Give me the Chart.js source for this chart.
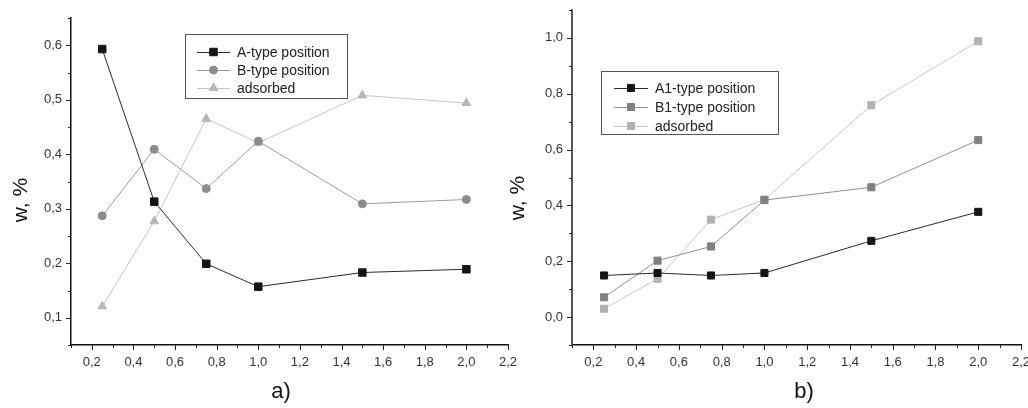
<!DOCTYPE html>
<html>
<head>
<meta charset="utf-8">
<script src="https://cdn.jsdelivr.net/npm/chart.js@4.4.1/dist/chart.umd.min.js"></script>
<style>
  body { margin: 0; background: #fff; width: 1028px; height: 408px; overflow: hidden; position: relative; }
  canvas { position: absolute; top: 0; }
  #chartA { left: 0; }
  #chartB { left: 500px; }
</style>
</head>
<body>
<canvas id="chartA" width="520" height="408"></canvas>
<canvas id="chartB" width="528" height="408"></canvas>
<script>
// values
const xValues = [0.25, 0.5, 0.75, 1.0, 1.5, 2.0];

const aType     = [0.593, 0.313, 0.199, 0.157, 0.183, 0.189];
const bType     = [0.287, 0.409, 0.337, 0.424, 0.309, 0.317];
const adsorbedA = [0.121, 0.277, 0.465, 0.421, 0.508, 0.494];

const a1Type    = [0.149, 0.158, 0.149, 0.158, 0.273, 0.377];
const b1Type    = [0.071, 0.202, 0.253, 0.419, 0.465, 0.634];
const adsorbedB = [0.030, 0.137, 0.349, 0.421, 0.759, 0.988];

const labelsA = ["A-type position", "B-type position", "adsorbed"];
const labelsB = ["A1-type position", "B1-type position", "adsorbed"];

const FONT = "'Liberation Sans', Arial, sans-serif";

function isMajor(v, step) {
  const r = v / step;
  return Math.abs(r - Math.round(r)) < 1e-6;
}
function fmt(v) {
  return v.toFixed(1).replace(".", ",");
}
function pts(ys) {
  return xValues.map((x, i) => ({ x: x, y: ys[i] }));
}

// minor / major tick marks, outward
const tickMarks = {
  id: "tickMarks",
  afterDraw(chart, args, opts) {
    const ctx = chart.ctx;
    const xs = chart.scales.x, ys = chart.scales.y;
    ctx.save();
    ctx.strokeStyle = "#222";
    ctx.lineWidth = 1;
    xs.ticks.forEach(t => {
      const px = Math.round(xs.getPixelForValue(t.value)) + 0.5;
      const len = isMajor(t.value, opts.xMajor) ? 5 : 3;
      ctx.beginPath();
      ctx.moveTo(px, xs.top);
      ctx.lineTo(px, xs.top + len);
      ctx.stroke();
    });
    ys.ticks.forEach(t => {
      const py = Math.round(ys.getPixelForValue(t.value)) + 0.5;
      const len = isMajor(t.value, opts.yMajor) ? 5 : 3;
      ctx.beginPath();
      ctx.moveTo(ys.right, py);
      ctx.lineTo(ys.right - len, py);
      ctx.stroke();
    });
    ctx.restore();
  }
};

// boxed legend + axis titles
const boxLegend = {
  id: "boxLegend",
  afterDraw(chart, args, opts) {
    const ctx = chart.ctx;
    const b = opts.box;
    ctx.save();
    ctx.strokeStyle = "#555";
    ctx.lineWidth = 1;
    ctx.strokeRect(b.x + 0.5, b.y + 0.5, b.w, b.h);
    ctx.font = "14px " + FONT;
    ctx.textBaseline = "middle";
    chart.data.datasets.forEach((ds, i) => {
      const y = b.y + opts.rowStart + i * opts.rowGap;
      ctx.strokeStyle = ds.borderColor;
      ctx.beginPath();
      ctx.moveTo(b.x + opts.lineX0, y + 0.5);
      ctx.lineTo(b.x + opts.lineX1, y + 0.5);
      ctx.stroke();
      ctx.fillStyle = ds.pointBackgroundColor;
      ctx.strokeStyle = ds.pointBackgroundColor;
      Chart.helpers.drawPoint(ctx, {
        pointStyle: ds.pointStyle, radius: ds.pointRadius, rotation: 0, borderWidth: 1
      }, b.x + (opts.lineX0 + opts.lineX1) / 2, y);
      ctx.fillStyle = "#222";
      ctx.fillText(ds.label, b.x + opts.textX, y + 1);
    });

    // y title
    ctx.fillStyle = "#111";
    ctx.font = "21px " + FONT;
    ctx.textAlign = "center";
    ctx.textBaseline = "alphabetic";
    ctx.save();
    ctx.translate(opts.yTitle.x, opts.yTitle.y);
    ctx.rotate(-Math.PI / 2);
    ctx.fillText("w, %", 0, 0);
    ctx.restore();
    // panel letter
    ctx.font = "22px " + FONT;
    ctx.fillText(opts.letter.text, opts.letter.x, opts.letter.y);
    ctx.restore();
  }
};

function makeChart(id, cfg) {
  return new Chart(document.getElementById(id), {
    type: "line",
    data: { datasets: cfg.datasets },
    plugins: [tickMarks, boxLegend],
    options: {
      responsive: false,
      animation: false,
      layout: { padding: cfg.padding },
      elements: { line: { tension: 0, borderWidth: 1 } },
      scales: {
        x: {
          type: "linear",
          min: 0.1, max: 2.2,
          grid: { display: false, drawTicks: false },
          border: { display: true, color: "#111", width: 1.5 },
          ticks: {
            stepSize: 0.1, autoSkip: false, maxRotation: 0, maxTicksLimit: 100,
            padding: 10, color: "#333", font: { family: FONT, size: 13 },
            callback: v => isMajor(v, 0.2) ? fmt(v) : ""
          },
          afterFit: s => { s.height = 63; s.paddingLeft = 0; s.paddingRight = 0; }
        },
        y: {
          min: cfg.yMin, max: cfg.yMax,
          grid: { display: false, drawTicks: false },
          border: { display: true, color: cfg.yAxisColor, width: cfg.yAxisWidth },
          ticks: {
            stepSize: cfg.yStep / 2, autoSkip: false, maxTicksLimit: 100,
            padding: 9, color: "#333", font: { family: FONT, size: 13 },
            callback: v => isMajor(v, cfg.yStep) ? fmt(v) : ""
          },
          afterFit: s => { s.width = cfg.yWidth; s.paddingTop = 0; s.paddingBottom = 0; }
        }
      },
      plugins: {
        legend: { display: false },
        tooltip: { enabled: false },
        tickMarks: { xMajor: 0.2, yMajor: cfg.yStep },
        boxLegend: cfg.legend
      }
    }
  });
}

function series(label, ys, line, mark, style, radius) {
  return {
    label: label,
    data: pts(ys),
    borderColor: line,
    pointBackgroundColor: mark,
    pointBorderColor: mark,
    pointBorderWidth: 1,
    pointStyle: style,
    pointRadius: radius
  };
}

makeChart("chartA", {
  padding: { left: 0, top: 18, right: 12, bottom: 0 },
  yMin: 0.05, yMax: 0.65, yStep: 0.1, yWidth: 71,
  yAxisColor: "#111", yAxisWidth: 1.5,
  datasets: [
    series(labelsA[0], aType, "#2a2a2a", "#151515", "rect", 5.3),
    series(labelsA[1], bType, "#9a9a9a", "#8c8c8c", "circle", 4),
    series(labelsA[2], adsorbedA, "#c4c4c4", "#b6b6b6", "triangle", 5)
  ],
  legend: {
    box: { x: 185, y: 34, w: 162, h: 64 },
    rowStart: 18, rowGap: 18,
    lineX0: 12, lineX1: 45, textX: 52,
    yTitle: { x: 27, y: 200 },
    letter: { text: "a)", x: 281, y: 398 }
  }
});

makeChart("chartB", {
  padding: { left: 0, top: 10, right: 7, bottom: 0 },
  yMin: -0.1, yMax: 1.1, yStep: 0.2, yWidth: 72,
  yAxisColor: "#555", yAxisWidth: 2,
  datasets: [
    series(labelsB[0], a1Type, "#2a2a2a", "#151515", "rect", 5),
    series(labelsB[1], b1Type, "#8e8e8e", "#808080", "rect", 5),
    series(labelsB[2], adsorbedB, "#c6c6c6", "#b2b2b2", "rect", 5)
  ],
  legend: {
    box: { x: 101, y: 71, w: 177, h: 63 },
    rowStart: 17, rowGap: 19,
    lineX0: 13, lineX1: 47, textX: 54,
    yTitle: { x: 24, y: 198 },
    letter: { text: "b)", x: 304, y: 398 }
  }
});
</script>
</body>
</html>
